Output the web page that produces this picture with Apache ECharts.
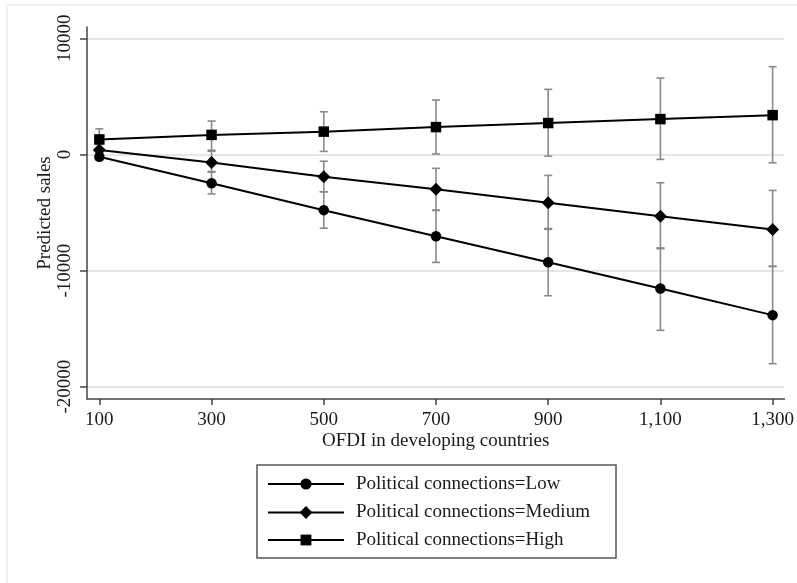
<!DOCTYPE html>
<html>
<head>
<meta charset="utf-8">
<script src="https://cdn.jsdelivr.net/npm/echarts@6/dist/echarts.min.js"></script>
<style>
  html, body { margin: 0; padding: 0; background: #fff; }
  #chart { width: 797px; height: 583px; }
</style>
</head>
<body>
<div id="chart"></div>
<script>
// OFDI levels on the x axis
const xValues = [100, 300, 500, 700, 900, 1100, 1300];
const xTicks = [100, 300, 500, 700, 900, 1100, 1300];
const yTicks = [-20000, -10000, 0, 10000];

// Predicted sales with 95% confidence bounds, by level of political connections
const lowMean  = [-200, -2480, -4800, -7040, -9280, -11540, -13840];
const lowLower = [-500, -3400, -6350, -9300, -12170, -15150, -18020];
const lowUpper = [100, -1520, -3220, -4800, -6380, -8050, -9640];

const medMean  = [370, -690, -1920, -3010, -4160, -5330, -6460];
const medLower = [-120, -1480, -3210, -4820, -6450, -8120, -9640];
const medUpper = [860, 270, -590, -1200, -1810, -2440, -3100];

const highMean  = [1290, 1680, 1960, 2350, 2700, 3040, 3380];
const highLower = [340, 360, 260, 30, -150, -430, -720];
const highUpper = [2200, 2870, 3670, 4680, 5600, 6570, 7550];

const seriesNames = [
  'Political connections=Low',
  'Political connections=Medium',
  'Political connections=High'
];

const FONT = '"Liberation Serif", "Times New Roman", serif';
const TEXT = '#1a1a1a';
const BAR = '#8a8a8a';

function pairs(ys) { return xValues.map((x, i) => [x, ys[i]]); }

// Vertical confidence-interval whiskers with short caps
function errorBars(name, lower, upper) {
  return {
    type: 'custom',
    name: name,
    z: 1,
    silent: true,
    data: xValues.map((x, i) => [x, lower[i], upper[i]]),
    encode: { x: 0, y: [1, 2] },
    renderItem(params, api) {
      const x = api.value(0);
      const lo = api.coord([x, api.value(1)]);
      const hi = api.coord([x, api.value(2)]);
      const hw = 4;
      const st = { stroke: BAR, lineWidth: 1.6 };
      return {
        type: 'group',
        children: [
          { type: 'line', shape: { x1: lo[0], y1: lo[1], x2: hi[0], y2: hi[1] }, style: st },
          { type: 'line', shape: { x1: lo[0] - hw, y1: lo[1], x2: lo[0] + hw, y2: lo[1] }, style: st },
          { type: 'line', shape: { x1: hi[0] - hw, y1: hi[1], x2: hi[0] + hw, y2: hi[1] }, style: st }
        ]
      };
    }
  };
}

function meanLine(name, ys, symbol, size) {
  return {
    type: 'line',
    name: name,
    z: 3,
    data: pairs(ys),
    symbol: symbol,
    symbolSize: size,
    showSymbol: true,
    lineStyle: { color: '#000', width: 2 },
    itemStyle: { color: '#000' }
  };
}

// One legend row per series so each key marker can have its own size
function legendRow(name, top, iconHeight) {
  return {
    data: [name],
    orient: 'vertical',
    left: 267,
    top: top,
    padding: 0,
    itemWidth: 76,
    itemHeight: iconHeight,
    selectedMode: false,
    textStyle: { fontFamily: FONT, fontSize: 19, color: TEXT, lineHeight: 20, padding: [0, 0, 0, 7] }
  };
}

const chart = echarts.init(document.getElementById('chart'), null, { renderer: 'canvas' });

chart.setOption({
  animation: false,
  backgroundColor: '#fff',
  textStyle: { fontFamily: FONT, color: TEXT },
  grid: { left: 87, top: 27, right: 10, bottom: 184, containLabel: false },
  xAxis: {
    type: 'value',
    min: 78,
    max: 1321,
    name: 'OFDI in developing countries',
    nameLocation: 'middle',
    nameGap: 33,
    nameMoveOverlap: false,
    nameTextStyle: { fontFamily: FONT, fontSize: 19, color: TEXT },
    axisLine: { show: true, onZero: false, lineStyle: { color: '#444', width: 1.5 } },
    axisTick: { show: true, length: 6, customValues: xTicks, lineStyle: { color: '#444', width: 1.5 } },
    axisLabel: {
      customValues: xTicks,
      margin: 12,
      fontFamily: FONT, fontSize: 19, color: TEXT,
      formatter: v => Number(v).toLocaleString('en-US')
    },
    splitLine: { show: false }
  },
  yAxis: {
    type: 'value',
    min: -21060,
    max: 10970,
    name: 'Predicted sales',
    nameLocation: 'middle',
    nameGap: 32,
    nameMoveOverlap: false,
    nameTextStyle: { fontFamily: FONT, fontSize: 19, color: TEXT },
    axisLine: { show: true, onZero: false, lineStyle: { color: '#444', width: 1.5 } },
    axisTick: { show: true, length: 7, customValues: yTicks, lineStyle: { color: '#444', width: 1.5 } },
    axisLabel: {
      customValues: yTicks,
      rotate: 90,
      margin: 12,
      fontFamily: FONT, fontSize: 19, color: TEXT,
      formatter: v => String(v)
    },
    splitLine: { show: true, lineStyle: { color: '#e6e6e6', width: 2 } }
  },
  legend: [
    legendRow(seriesNames[0], 474, 14),
    legendRow(seriesNames[1], 502.5, 16),
    legendRow(seriesNames[2], 530, 13.5)
  ],
  graphic: [
    {
      type: 'rect',
      z: -10,
      shape: { x: 7, y: 5, width: 800, height: 600 },
      style: { fill: 'none', stroke: '#ececec', lineWidth: 1.5 },
      silent: true
    },
    {
      type: 'rect',
      shape: { x: 257, y: 465, width: 359, height: 93 },
      style: { fill: 'none', stroke: '#555', lineWidth: 1.5 },
      silent: true
    }
  ],
  series: [
    errorBars('ci-low', lowLower, lowUpper),
    errorBars('ci-medium', medLower, medUpper),
    errorBars('ci-high', highLower, highUpper),
    meanLine(seriesNames[0], lowMean, 'circle', 10.5),
    meanLine(seriesNames[1], medMean, 'diamond', 13),
    meanLine(seriesNames[2], highMean, 'rect', 10.5)
  ]
});
</script>
</body>
</html>
